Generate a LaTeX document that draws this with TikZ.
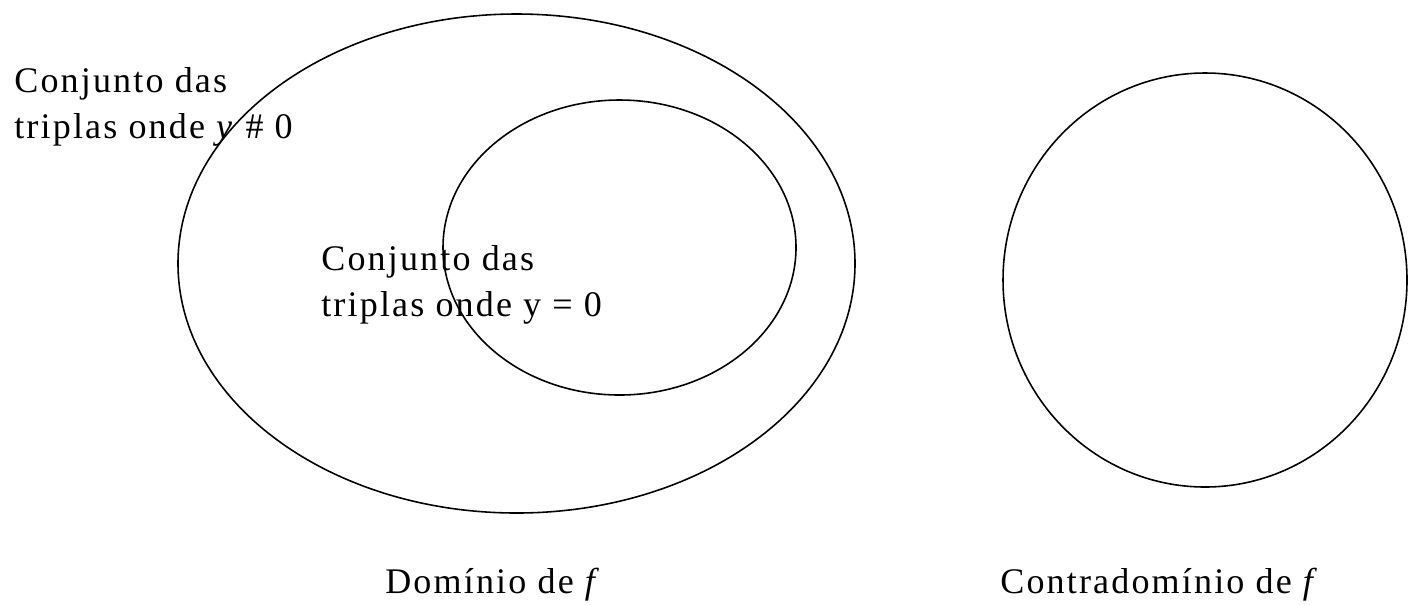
\documentclass[tikz,border=0pt]{standalone}
\usepackage{fontspec}
\setmainfont{Liberation Serif}[LetterSpace=6]
\usetikzlibrary{positioning}

\begin{document}
\begin{tikzpicture}[
  label/.style={inner sep=0pt, align=left, font=\fontsize{20.5}{26}\selectfont},
  set/.style={draw=black, line width=0.9pt}
]
\useasboundingbox (0,0) rectangle (28.18,-12.08);
% conjuntos
\draw[set] (10.33,-5.27) ellipse [x radius=6.77, y radius=4.99];
\draw[set] (12.39,-4.95) ellipse [x radius=3.53, y radius=2.95];
\draw[set] (24.10,-5.60) ellipse [x radius=4.04, y radius=4.14];
% textos
\node[label, anchor=north west] (naozero) at (0.28,-1.34) {Conjunto das\\triplas onde \textit{y} \# 0};
\node[label, anchor=north west] (zero) at (6.42,-4.90) {Conjunto das\\triplas onde y = 0};
\node[label, anchor=base west] (dominio) at (7.70,-11.86) {Domínio de \textit{f}};
\node[label, anchor=base west] (contra) at (20.00,-11.86) {Contradomínio de \textit{f}};
\end{tikzpicture}
\end{document}
